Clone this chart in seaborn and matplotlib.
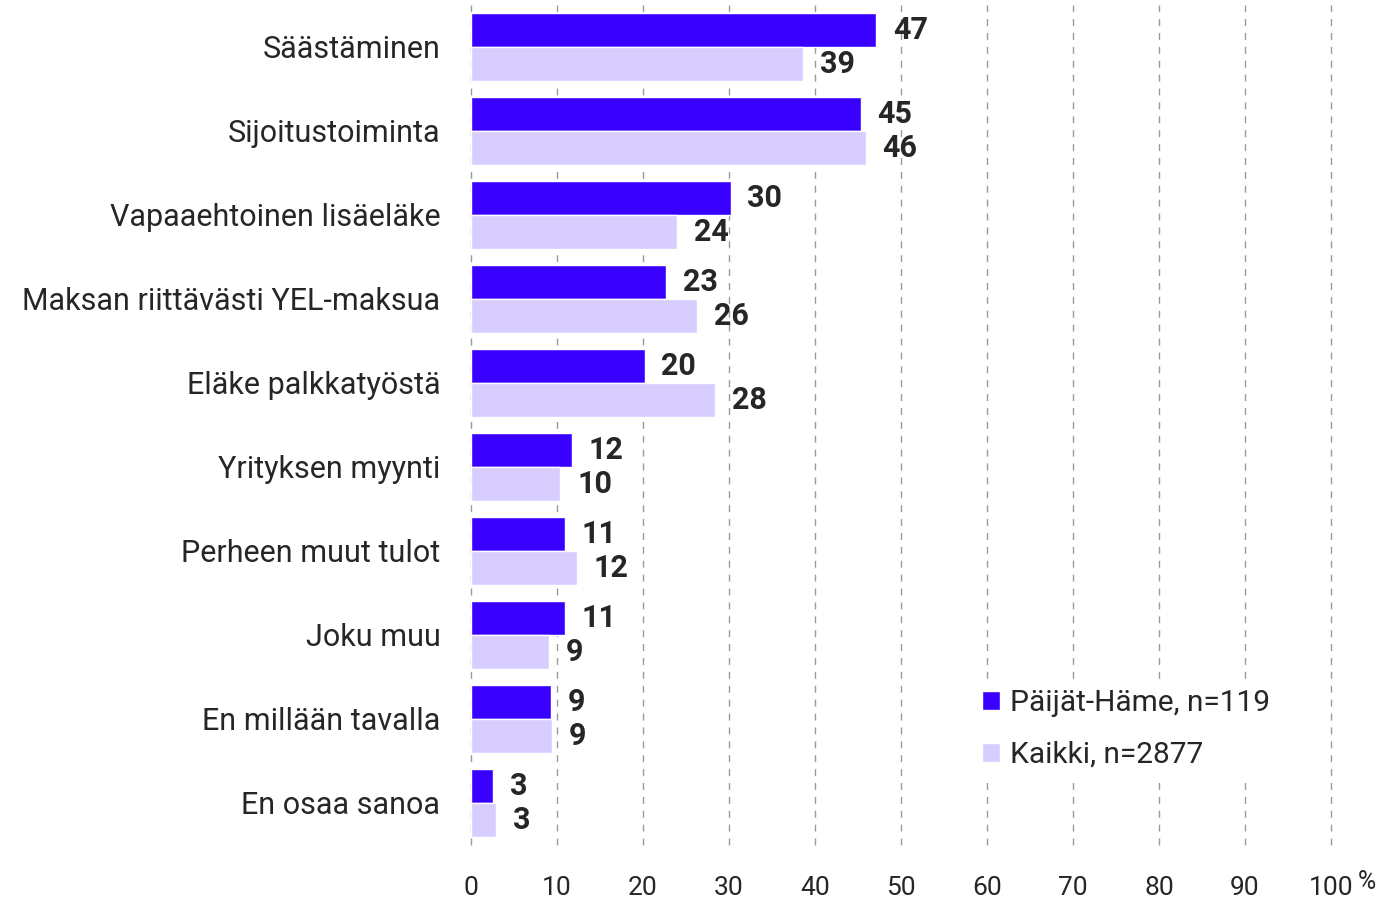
import matplotlib.pyplot as plt
import seaborn as sns
import pandas as pd

# data (percent)
categories = ["Säästäminen", "Sijoitustoiminta", "Vapaaehtoinen lisäeläke",
              "Maksan riittävästi YEL-maksua", "Eläke palkkatyöstä",
              "Yrityksen myynti", "Perheen muut tulot", "Joku muu",
              "En millään tavalla", "En osaa sanoa"]
paijat_hame = [47.1, 45.3, 30.2, 22.7, 20.2, 11.7, 10.9, 10.9, 9.3, 2.6]
kaikki = [38.6, 45.9, 24.0, 26.3, 28.4, 10.4, 12.3, 9.1, 9.4, 2.9]
series = ["Päijät-Häme, n=119", "Kaikki, n=2877"]
xticks = [0, 10, 20, 30, 40, 50, 60, 70, 80, 90, 100]

df = pd.DataFrame({
    "kategoria": categories * 2,
    "arvo": paijat_hame + kaikki,
    "ryhma": [series[0]] * len(categories) + [series[1]] * len(categories),
})

sns.set_style("white")
plt.rcParams["font.family"] = ["Roboto", "DejaVu Sans"]
txt = "#262626"

fig = plt.figure(figsize=(13.86, 9.02), dpi=100)
ax = fig.add_axes([471 / 1386, 1 - 845 / 902, 860 / 1386, 840 / 902])

sns.barplot(data=df, y="kategoria", x="arvo", hue="ryhma", orient="h",
            palette=["#3a00ff", "#d8cdff"], width=0.8, saturation=1,
            ax=ax, zorder=3)

for cont, vals in zip(ax.containers, [paijat_hame, kaikki]):
    ax.bar_label(cont, labels=[str(round(v)) for v in vals], padding=12,
                 fontsize=22, fontweight="bold", color=txt)

ax.set_xlim(0, 100)
ax.set_xticks(xticks)
ax.set_xticklabels([str(t) for t in xticks])
ax.set_xlabel("")
ax.set_ylabel("")
sns.despine(ax=ax, left=True, bottom=True)
ax.xaxis.grid(True, linestyle=(0, (5, 5)), color="#9a9a9a", linewidth=1)
for gl in ax.xaxis.get_gridlines():
    gl.set_clip_on(False)
ax.yaxis.grid(False)
ax.set_axisbelow(True)
ax.tick_params(axis="x", length=0, pad=22, labelsize=19, labelcolor=txt)
ax.tick_params(axis="y", length=0, pad=22, labelsize=22, labelcolor=txt)
fig.text(1358 / 1386, 1 - 882 / 902, "%", fontsize=18, color=txt,
         va="center", ha="left")

handles, labels = ax.get_legend_handles_labels()
ax.legend(handles, labels, loc="upper left",
          bbox_to_anchor=(958 / 1386, 1 - 665 / 902),
          bbox_transform=fig.transFigure, fontsize=21.5, frameon=True,
          facecolor="white", edgecolor="none", framealpha=1,
          handlelength=0.6, handleheight=0.6, handletextpad=0.35,
          labelspacing=0.8, borderpad=0.3, labelcolor=txt)

fig.savefig("out.png", dpi=100)
